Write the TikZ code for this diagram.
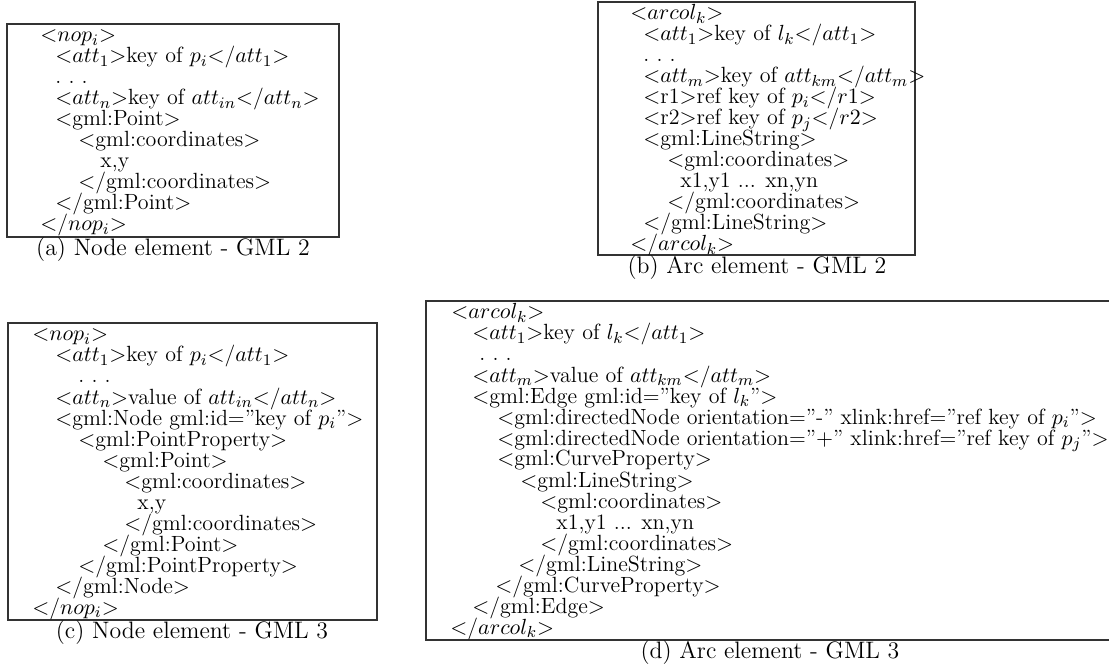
\documentclass[tikz,border=0pt]{standalone}
\usepackage{tikz}
\newcommand{\cl}[5]{\node[codeln] (#1) at (#3,{#2+18+21*(#4-1)}) {#5};}
\newcommand{\lt}{$<$}
\newcommand{\gt}{$>$}
\begin{document}
\begin{tikzpicture}[x=0.5pt,y=-0.5pt,
  codeln/.style={anchor=base west,inner sep=0pt,font=\fontsize{11}{13}\selectfont},
  capt/.style={anchor=center,inner sep=0pt,font=\fontsize{11.9}{14}\selectfont},
  frame/.style={draw=black!80,line width=0.6pt}]
\useasboundingbox (0,0) rectangle (1109,668);
% ---------- (a)
\draw[frame] (7,24) rectangle (339,237);
\cl{a1}{24}{40}{1}{\lt$nop_i$\gt}
\cl{a2}{24}{55}{2}{\lt$att_1$\gt key of $p_i$\lt/$att_1$\gt}
\cl{a3}{24}{55}{3}{.\ .\ .}
\cl{a4}{24}{55}{4}{\lt$att_n$\gt key of $att_{in}$\lt/$att_n$\gt}
\cl{a5}{24}{55}{5}{\lt gml:Point\gt}
\cl{a6}{24}{78}{6}{\lt gml:coordinates\gt}
\cl{a7}{24}{100}{7}{x,y}
\cl{a8}{24}{78}{8}{\lt/gml:coordinates\gt}
\cl{a9}{24}{55}{9}{\lt/gml:Point\gt}
\cl{a10}{24}{40}{10}{\lt/$nop_i$\gt}
\node[capt] (capa) at (173,250) {(a) Node element - GML 2};
% ---------- (b)
\draw[frame] (598,2) rectangle (915,255);
\cl{b1}{2}{630}{1}{\lt$arcol_k$\gt}
\cl{b2}{2}{643}{2}{\lt$att_1$\gt key of $l_k$\lt/$att_1$\gt}
\cl{b3}{2}{643}{3}{.\ .\ .}
\cl{b4}{2}{643}{4}{\lt$att_m$\gt key of $att_{km}$\lt/$att_m$\gt}
\cl{b5}{2}{643}{5}{\lt r1\gt ref key of $p_i$\lt/$r1$\gt}
\cl{b6}{2}{643}{6}{\lt r2\gt ref key of $p_j$\lt/$r2$\gt}
\cl{b7}{2}{643}{7}{\lt gml:LineString\gt}
\cl{b8}{2}{667}{8}{\lt gml:coordinates\gt}
\cl{b9}{2}{680}{9}{x1,y1 ... xn,yn}
\cl{b10}{2}{667}{10}{\lt/gml:coordinates\gt}
\cl{b11}{2}{643}{11}{\lt/gml:LineString\gt}
\cl{b12}{2}{630}{12}{\lt/$arcol_k$\gt}
\node[capt] (capb) at (757,268) {(b) Arc element - GML 2};
% ---------- (c)
\draw[frame] (8,323) rectangle (377,620);
\cl{c1}{323}{32}{1}{\lt$nop_i$\gt}
\cl{c2}{323}{55}{2}{\lt$att_1$\gt key of $p_i$\lt/$att_1$\gt}
\cl{c3}{323}{78}{3}{.\ .\ .}
\cl{c4}{323}{55}{4}{\lt$att_n$\gt value of $att_{in}$\lt/$att_n$\gt}
\cl{c5}{323}{55}{5}{\lt gml:Node gml:id=''key of $p_i$''\gt}
\cl{c6}{323}{78}{6}{\lt gml:PointProperty\gt}
\cl{c7}{323}{102}{7}{\lt gml:Point\gt}
\cl{c8}{323}{124}{8}{\lt gml:coordinates\gt}
\cl{c9}{323}{137}{9}{x,y}
\cl{c10}{323}{124}{10}{\lt/gml:coordinates\gt}
\cl{c11}{323}{102}{11}{\lt/gml:Point\gt}
\cl{c12}{323}{78}{12}{\lt/gml:PointProperty\gt}
\cl{c13}{323}{55}{13}{\lt/gml:Node\gt}
\cl{c14}{323}{32}{14}{\lt/$nop_i$\gt}
\node[capt] (capc) at (192,633) {(c) Node element - GML 3};
% ---------- (d)
\draw[frame] (1109,301) -- (426,301) -- (426,640) -- (1109,640);
\cl{d1}{301}{451}{1}{\lt$arcol_k$\gt}
\cl{d2}{301}{472}{2}{\lt$att_1$\gt key of $l_k$\lt/$att_1$\gt}
\cl{d3}{301}{479}{3}{.\ .\ .}
\cl{d4}{301}{472}{4}{\lt$att_m$\gt value of $att_{km}$\lt/$att_m$\gt}
\cl{d5}{301}{472}{5}{\lt gml:Edge gml:id=''key of $l_k$''\gt}
\cl{d6}{301}{497}{6}{\lt gml:directedNode orientation=''-'' xlink:href=''ref key of $p_i$''\gt}
\cl{d7}{301}{497}{7}{\lt gml:directedNode orientation=''$+$'' xlink:href=''ref key of $p_j$''\gt}
\cl{d8}{301}{497}{8}{\lt gml:CurveProperty\gt}
\cl{d9}{301}{520}{9}{\lt gml:LineString\gt}
\cl{d10}{301}{540}{10}{\lt gml:coordinates\gt}
\cl{d11}{301}{556}{11}{x1,y1 ... xn,yn}
\cl{d12}{301}{540}{12}{\lt/gml:coordinates\gt}
\cl{d13}{301}{518}{13}{\lt/gml:LineString\gt}
\cl{d14}{301}{495}{14}{\lt/gml:CurveProperty\gt}
\cl{d15}{301}{472}{15}{\lt/gml:Edge\gt}
\cl{d16}{301}{450}{16}{\lt/$arcol_k$\gt}
\node[capt] (capd) at (770,653) {(d) Arc element - GML 3};
\end{tikzpicture}
\end{document}
